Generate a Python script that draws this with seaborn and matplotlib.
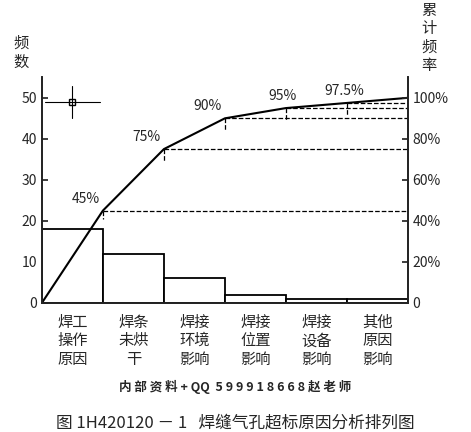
import matplotlib.pyplot as plt
import pandas as pd
import seaborn as sns

categories = ['焊工\n操作\n原因', '焊条\n未烘\n干', '焊接\n环境\n影响', '焊接\n位置\n影响', '焊接\n设备\n影响', '其他\n原因\n影响']
counts = [18, 12, 6, 2, 1, 1]
cum_pct = [45, 75, 90, 95, 97.5, 100]
pct_labels = ['45%', '75%', '90%', '95%', '97.5%', '']

sns.set_theme(style='white')
plt.rcParams['font.family'] = ['Noto Sans CJK SC', 'DejaVu Sans']

fig = plt.figure(figsize=(4.71, 4.32), dpi=100)
ax = fig.add_axes([0.089, 0.299, 0.777, 0.522])
df = pd.DataFrame({'cat': range(6), 'n': counts})
sns.barplot(data=df, x='cat', y='n', width=1.0, color='white', edgecolor='black',
            linewidth=1.3, ax=ax)
ax.set_xlim(-0.5, 5.5)
ax.set_ylim(0, 55)

# cumulative curve (right scale: 100% == 50 units)
xs = [-0.5] + [i + 0.5 for i in range(6)]
ys = [0] + [p / 2 for p in cum_pct]
ax.plot(xs, ys, color='black', lw=1.5)
for i, (p, lab) in enumerate(zip(cum_pct, pct_labels)):
    x, y = i + 0.5, p / 2
    ax.plot([x, 5.5], [y, y], ls='--', color='black', lw=0.9)
    ax.plot([x, x], [y, y - 3 if i else y - 2], ls='--', color='black', lw=0.9)
    if lab:
        ax.text(x - 0.05, y + 1.2, lab, ha='right' if i < 3 else 'center',
                va='bottom', fontsize=10)

# crosshair symbol
ax.plot([-0.45, 0.45], [49, 49], color='black', lw=0.8)
ax.plot([0, 0], [45, 53], color='black', lw=0.8)
ax.plot([0], [49], marker='s', mfc='none', mec='black', ms=5)

for s in ['top']:
    ax.spines[s].set_visible(False)
for s in ['left', 'right', 'bottom']:
    ax.spines[s].set_color('black')
    ax.spines[s].set_linewidth(1.2)
ax.set_xticks(range(6))
ax.set_xticklabels(categories, fontsize=11, linespacing=1.1)
ax.set_xlabel('')
ax.set_ylabel('')
ax.set_yticks([0, 10, 20, 30, 40, 50])
ax.tick_params(axis='y', direction='in', length=4, labelsize=10, left=True)
ax.tick_params(axis='x', length=0, pad=8)

ax2 = ax.twinx()
ax2.set_ylim(0, 55)
ax2.set_yticks([0, 10, 20, 30, 40, 50])
ax2.set_yticklabels(['0', '20%', '40%', '60%', '80%', '100%'], fontsize=10)
ax2.tick_params(axis='y', direction='in', length=4, right=True)
for s in ['top']:
    ax2.spines[s].set_visible(False)

fig.text(0.045, 0.92, '频\n数', fontsize=11, va='top', ha='center', linespacing=1.2)
fig.text(0.91, 0.995, '累\n计\n频\n率', fontsize=11, va='top', ha='center', linespacing=1.1)
fig.text(0.5, 0.095, '内 部 资 料 + QQ  5 9 9 9 1 8 6 6 8 赵 老 师', fontsize=9,
         fontweight='bold', ha='center')
fig.text(0.5, 0.01, '图 1H420120 － 1   焊缝气孔超标原因分析排列图', fontsize=12, ha='center')
fig.savefig('out.png', dpi=100, facecolor='white')
